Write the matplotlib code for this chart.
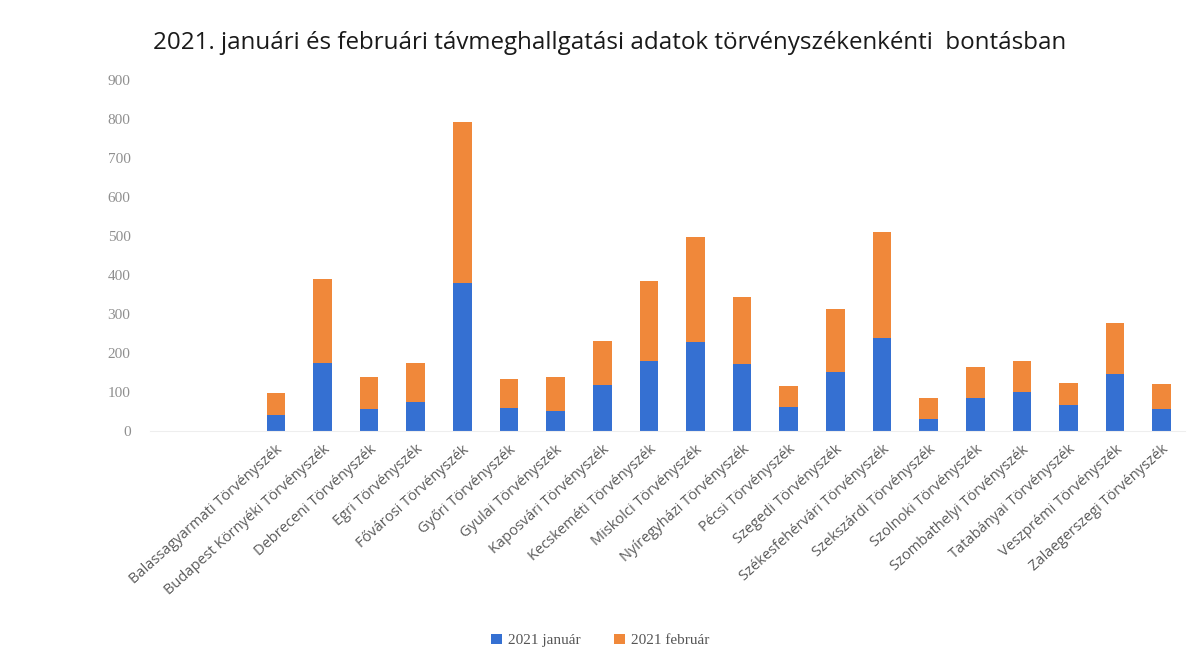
import matplotlib
matplotlib.use("Agg")
import matplotlib.pyplot as plt
import numpy as np

# Courts (categories)
courts = [
    "Balassagyarmati Törvényszék", "Budapest Környéki Törvényszék",
    "Debreceni Törvényszék", "Egri Törvényszék", "Fővárosi Törvényszék",
    "Győri Törvényszék", "Gyulai Törvényszék", "Kaposvári Törvényszék",
    "Kecskeméti Törvényszék", "Miskolci Törvényszék", "Nyíregyházi Törvényszék",
    "Pécsi Törvényszék", "Szegedi Törvényszék", "Székesfehérvári Törvényszék",
    "Szekszárdi Törvényszék", "Szolnoki Törvényszék", "Szombathelyi Törvényszék",
    "Tatabányai Törvényszék", "Veszprémi Törvényszék", "Zalaegerszegi Törvényszék",
]

# Remote hearings per month
january = [41, 175, 56, 73, 379, 60, 50, 118, 179, 227, 171, 62, 150, 239, 31, 84, 101, 67, 146, 56]
february = [57, 214, 83, 102, 412, 74, 87, 113, 204, 271, 171, 52, 163, 270, 54, 81, 77, 55, 130, 65]

yticks = list(range(0, 1000, 100))

BLUE = "#3570d2"
ORANGE = "#f0883a"

fig = plt.figure(figsize=(12, 6.65), dpi=100)
ax = fig.add_axes([0.125, 0.352, 0.8625, 0.528])

x = np.arange(len(courts))
ax.bar(x, january, width=0.4, color=BLUE, label="2021 január")
ax.bar(x, february, width=0.4, bottom=january, color=ORANGE, label="2021 február")

ax.set_ylim(0, 900)
ax.set_xlim(-2.7, len(courts) - 0.5)
ax.set_yticks(yticks)
ax.set_yticklabels([str(v) for v in yticks], color="#8f8f8f", fontsize=11,
                   family="Liberation Serif")
ax.set_xticks(x)
ax.set_xticklabels(courts, rotation=42, ha="right", rotation_mode="anchor",
                   fontsize=10.5, color="#5a5a5a", family="Open Sans")
ax.tick_params(axis="both", length=0)
ax.tick_params(axis="y", pad=14)
ax.tick_params(axis="x", pad=8)

for side in ["top", "right", "left"]:
    ax.spines[side].set_visible(False)
ax.spines["bottom"].set_color("#eeeeee")

fig.suptitle("2021. januári és februári távmeghallgatási adatok törvényszékenkénti  bontásban",
             x=0.508, y=0.953, fontsize=17.4, color="#1a1a1a", family="Open Sans")

fig.legend(loc="center", bbox_to_anchor=(0.5, 0.037), ncol=2, frameon=False,
           prop={"family": "Liberation Serif", "size": 11}, handlelength=0.7,
           handleheight=0.7, columnspacing=2.2, handletextpad=0.4,
           labelcolor="#555555")

fig.savefig("out.png", dpi=100, facecolor="white")
